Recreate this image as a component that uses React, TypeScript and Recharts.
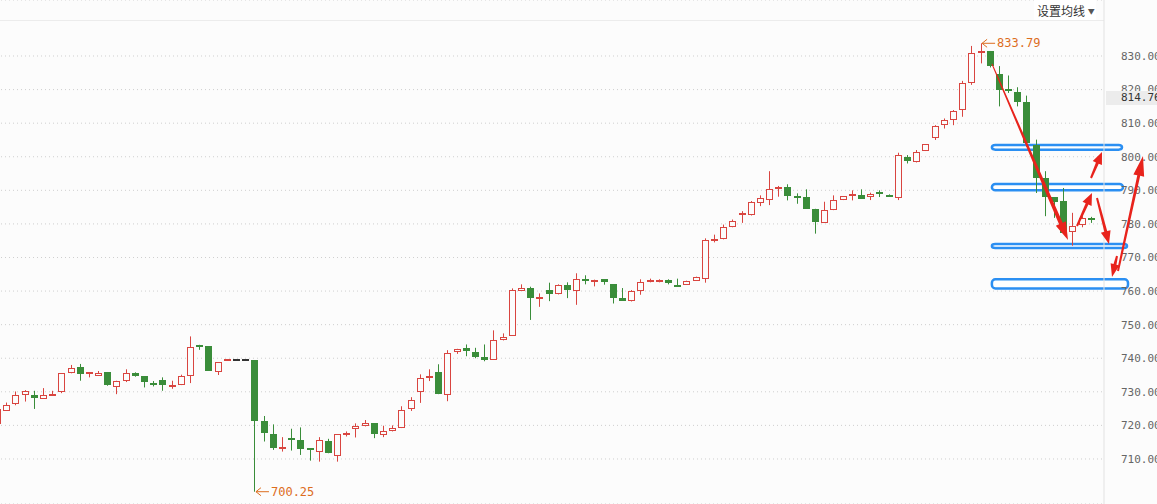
import { ComposedChart, Bar, XAxis, YAxis, CartesianGrid, ReferenceArea, ReferenceDot } from "recharts";

// daily OHLC (oldest first)
const opens = [
  720.5, 724.3, 726.4, 729.0, 729.1, 728.0, 728.9, 729.8, 735.5, 737.3,
  735.2, 734.8, 735.9, 731.4, 733.3, 735.6, 734.6, 732.6, 733.5, 731.4,
  732.0, 734.7, 743.5, 743.5, 736.0, 739.3, 739.4, 739.4, 739.4, 721.4,
  717.5, 713.1, 716.0, 715.7, 713.0, 712.2, 715.4, 711.0, 717.3, 718.8,
  719.7, 720.6, 717.0, 718.2, 719.2, 725.0, 730.0, 734.3, 736.0, 729.1,
  741.9, 742.9, 741.9, 740.5, 739.6, 745.3, 746.7, 760.1, 761.0, 757.6,
  760.2, 759.0, 761.8, 760.1, 763.4, 762.7, 763.5, 762.0, 757.9, 756.9,
  760.0, 762.6, 762.8, 763.2, 761.6, 761.9, 763.1, 763.7, 775.1, 775.4,
  779.0, 782.7, 782.8, 786.3, 787.1, 790.5, 791.1, 788.1, 788.1, 784.5,
  780.3, 784.1, 787.1, 788.4, 788.5, 788.0, 789.1, 788.5, 787.8, 800.0,
  798.3, 801.7, 805.5, 809.6, 810.9, 813.9, 821.9, 831.2, 831.5, 824.5,
  820.0, 819.2, 816.2, 803.6, 793.7, 788.0, 786.7, 777.5, 779.6, 781.6,
];
const highs = [
  726.0, 726.8, 730.1, 730.5, 730.3, 731.1, 730.3, 735.6, 738.0, 738.3,
  735.9, 736.2, 735.9, 733.3, 736.7, 735.8, 734.6, 733.2, 734.3, 733.3,
  735.1, 746.5, 744.0, 743.5, 738.8, 739.4, 739.4, 739.4, 739.4, 722.8,
  720.3, 716.5, 719.0, 719.4, 713.0, 716.5, 716.0, 717.4, 718.2, 720.6,
  721.6, 720.6, 719.9, 720.0, 725.7, 728.4, 735.2, 736.7, 738.2, 742.4,
  742.8, 744.1, 743.1, 744.1, 748.3, 747.4, 760.8, 762.0, 761.3, 759.3,
  762.5, 762.0, 762.6, 765.3, 764.7, 763.4, 763.5, 762.0, 760.9, 760.3,
  763.5, 763.7, 763.5, 763.5, 763.7, 763.1, 764.3, 775.7, 776.8, 779.8,
  781.3, 783.8, 786.8, 788.5, 795.7, 791.3, 791.8, 789.1, 790.3, 784.5,
  786.6, 788.5, 788.3, 790.0, 790.3, 789.3, 790.0, 788.8, 801.2, 800.5,
  802.0, 803.7, 809.4, 811.4, 813.9, 822.6, 833.0, 833.79, 831.5, 827.0,
  824.2, 820.7, 818.2, 805.1, 795.7, 788.0, 790.7, 783.3, 782.3, 782.1,
];
const lows = [
  720.0, 724.3, 726.0, 727.1, 724.9, 728.0, 728.9, 729.6, 735.5, 733.3,
  734.3, 734.8, 731.8, 729.3, 732.9, 734.5, 731.3, 731.6, 730.3, 730.9,
  732.0, 732.6, 742.5, 736.3, 735.0, 739.3, 739.4, 739.4, 700.25, 715.2,
  712.7, 712.2, 712.5, 711.2, 709.5, 709.2, 711.7, 709.2, 716.7, 716.4,
  719.7, 716.2, 716.5, 718.2, 719.2, 724.3, 726.7, 733.2, 729.3, 727.2,
  741.3, 740.6, 740.0, 739.1, 739.6, 745.3, 746.7, 760.1, 751.4, 755.3,
  757.0, 759.0, 757.9, 755.9, 762.0, 761.4, 761.9, 756.3, 757.1, 756.9,
  758.9, 762.6, 762.6, 762.0, 761.4, 761.9, 763.1, 762.5, 774.5, 775.4,
  779.0, 780.3, 782.5, 785.3, 785.6, 788.1, 787.0, 786.0, 784.5, 777.1,
  780.3, 784.1, 787.1, 787.0, 787.5, 787.1, 788.0, 788.1, 787.1, 798.0,
  798.3, 801.7, 805.0, 808.4, 809.4, 811.9, 821.4, 827.8, 826.6, 815.0,
  819.0, 815.0, 803.0, 789.2, 782.3, 781.8, 777.0, 773.5, 779.0, 780.3,
];
const closes = [
  725.0, 726.1, 729.1, 730.3, 728.3, 729.1, 729.4, 735.5, 737.0, 735.4,
  735.7, 735.6, 731.9, 733.3, 735.6, 734.8, 732.8, 731.9, 731.9, 732.1,
  734.6, 743.3, 743.2, 736.3, 738.8, 739.4, 739.4, 739.4, 721.4, 717.6,
  713.4, 713.3, 715.8, 713.0, 712.8, 715.7, 711.9, 717.4, 717.5, 719.9,
  720.7, 717.4, 718.4, 719.2, 724.6, 727.6, 734.2, 734.4, 729.3, 741.6,
  742.8, 742.1, 740.3, 739.4, 745.3, 746.4, 760.2, 761.0, 757.9, 757.8,
  759.1, 761.7, 760.3, 763.7, 763.2, 763.4, 762.6, 757.9, 757.1, 760.0,
  762.6, 762.9, 763.2, 762.5, 761.4, 763.1, 764.3, 775.2, 775.3, 779.1,
  780.8, 782.9, 786.5, 787.8, 790.3, 791.1, 788.3, 788.0, 784.5, 780.6,
  784.1, 787.1, 788.3, 788.5, 787.5, 789.0, 788.9, 788.1, 800.4, 798.7,
  801.5, 803.7, 809.2, 810.9, 813.6, 822.1, 831.0, 831.3, 827.0, 820.0,
  819.7, 816.2, 804.1, 793.7, 788.0, 786.4, 777.3, 779.3, 781.8, 781.4,
];

const yTicks = [710, 720, 730, 740, 750, 760, 770, 780, 790, 800, 810, 820, 830];
const highIndex = 107;
const lowIndex = 28;
const lastPrice = "814.76";

// hand-drawn support / resistance boxes [from, to] in price
const levelBands = [
  [802.1, 803.5],
  [790.0, 791.9],
  [772.8, 774.0],
  [760.8, 763.5],
];
const bandExtend = [26, 27, 31, 32];

// hand-drawn red arrows, page pixels: start -> tip
const arrows = [
  { x1: 992, y1: 64, x2: 1068, y2: 240, w0: 1, w1: 4, head: 18, hw: 11 },
  { x1: 1077, y1: 226, x2: 1092, y2: 193, w0: 2, w1: 3, head: 12, hw: 10 },
  { x1: 1091, y1: 178, x2: 1102, y2: 152, w0: 2, w1: 3, head: 12, hw: 10 },
  { x1: 1097, y1: 198, x2: 1109, y2: 244, w0: 2, w1: 3, head: 13, hw: 10 },
  { x1: 1117, y1: 256, x2: 1112, y2: 277, w0: 2, w1: 3, head: 13, hw: 9 },
  { x1: 1118, y1: 271, x2: 1143, y2: 156, w0: 2, w1: 3, head: 20, hw: 11 },
];

const data = opens.map((open, i) => ({
  i,
  open,
  high: highs[i],
  low: lows[i],
  close: closes[i],
}));

const RED = "#d94540";
const GREEN = "#3a8d3a";
const FLAT = "#333333";
const BG = "#fcfcfc";
const ORANGE = "#dc6d1e";
const MONO = "'DejaVu Sans Mono', monospace";

function Candle(props: any) {
  const { x, y, width, height, payload } = props;
  if (x == null || payload == null) return null;
  const { open, close, high, low } = payload;
  const span = high - low;
  const py = (v: number) => (span === 0 ? y : y + ((high - v) / span) * height);
  const cx = Math.floor(x + width / 2) + 0.5;
  const top = Math.round(py(Math.max(open, close)));
  const bot = Math.round(py(Math.min(open, close)));
  const color = close > open ? RED : close < open ? GREEN : FLAT;
  let body;
  if (bot - top < 2) {
    body = <rect x={cx - 3.5} y={top - 1} width={7} height={2} fill={color} />;
  } else if (close > open) {
    body = <rect x={cx - 3} y={top + 0.5} width={6} height={bot - top - 1} fill={BG} stroke={color} strokeWidth={1} />;
  } else {
    body = <rect x={cx - 3.5} y={top} width={7} height={bot - top} fill={color} />;
  }
  return (
    <g>
      {span > 0 && <line x1={cx} x2={cx} y1={py(high)} y2={py(low)} stroke={color} strokeWidth={1} />}
      {body}
    </g>
  );
}

function PriceMark(props: any) {
  const { cx, cy, payload } = props;
  if (cx == null) return null;
  const left = cx + 1;
  return (
    <g>
      <line x1={left} x2={left + 13} y1={cy} y2={cy} stroke={ORANGE} strokeWidth={1} />
      <path d={`M${left + 5},${cy - 4} L${left},${cy} L${left + 5},${cy + 4}`} fill="none" stroke={ORANGE} strokeWidth={1} />
      <text x={left + 15} y={cy} dy="0.35em" fill={ORANGE} fontSize={12} fontFamily={MONO}>
        {payload}
      </text>
    </g>
  );
}

function arrowPoints(a: (typeof arrows)[number]) {
  const dx = a.x2 - a.x1;
  const dy = a.y2 - a.y1;
  const len = Math.hypot(dx, dy);
  const ux = dx / len, uy = dy / len;
  const nx = -uy, ny = ux;
  const bx = a.x2 - ux * a.head, by = a.y2 - uy * a.head;
  const pts = [
    [a.x1 + (nx * a.w0) / 2, a.y1 + (ny * a.w0) / 2],
    [bx + (nx * a.w1) / 2, by + (ny * a.w1) / 2],
    [bx + (nx * a.hw) / 2, by + (ny * a.hw) / 2],
    [a.x2, a.y2],
    [bx - (nx * a.hw) / 2, by - (ny * a.hw) / 2],
    [bx - (nx * a.w1) / 2, by - (ny * a.w1) / 2],
    [a.x1 - (nx * a.w0) / 2, a.y1 - (ny * a.w0) / 2],
  ];
  return pts.map((p) => p.join(",")).join(" ");
}

export default function App() {
  return (
    <div style={{ position: "absolute", left: 0, top: 0, width: 1157, height: 504, overflow: "hidden", background: BG }}>
      <div style={{ position: "absolute", left: 0, top: 20, width: 1104, height: 1, background: "#ececec" }} />
      <div style={{ position: "absolute", left: -7, top: 0 }}>
        <ComposedChart width={1164} height={504} data={data} margin={{ top: 0, right: 0, bottom: 0, left: 0 }}>
          <CartesianGrid vertical={false} stroke="#cfcfcf" strokeDasharray="1 3" />
          <XAxis dataKey="i" type="category" hide padding={{ left: 0, right: 8 }} />
          <YAxis
            orientation="right"
            width={53}
            domain={[696.59, 846.68]}
            allowDataOverflow
            ticks={yTicks}
            tickFormatter={(v: number) => v.toFixed(2)}
            axisLine={{ stroke: "#e2e2e2" }}
            tickLine={false}
            tickSize={0}
            tickMargin={17}
            tick={{ fill: "#666", fontSize: 11, fontFamily: MONO }}
          />
          {levelBands.map(([lo, hi], k) => (
            <ReferenceArea
              key={k}
              x1={109}
              x2={119}
              y1={lo}
              y2={hi}
              ifOverflow="visible"
              shape={(p: any) => (
                <rect
                  x={p.x - 3}
                  y={p.y}
                  width={p.width + 3 + bandExtend[k]}
                  height={p.height}
                  rx={3.5}
                  fill="#ffffff"
                  stroke="#2b8ff2"
                  strokeWidth={2.5}
                />
              )}
            />
          ))}
          <Bar
            dataKey={(d: any) => [d.low, d.high]}
            barSize={7}
            isAnimationActive={false}
            shape={(p: any) => <Candle {...p} />}
          />
          <ReferenceDot
            x={highIndex}
            y={highs[highIndex]}
            ifOverflow="visible"
            shape={(p: any) => <PriceMark {...p} payload={highs[highIndex].toFixed(2)} />}
          />
          <ReferenceDot
            x={lowIndex}
            y={lows[lowIndex]}
            ifOverflow="visible"
            shape={(p: any) => <PriceMark {...p} payload={lows[lowIndex].toFixed(2)} />}
          />
        </ComposedChart>
      </div>
      <svg width={1157} height={504} style={{ position: "absolute", left: 0, top: 0, pointerEvents: "none" }}>
        {arrows.map((a, k) => (
          <polygon key={k} points={arrowPoints(a)} fill="#e8231c" />
        ))}
      </svg>
      <div
        style={{
          position: "absolute",
          left: 1106,
          top: 91,
          width: 51,
          height: 14,
          background: "#ececec",
          fontFamily: MONO,
          fontSize: 11,
          lineHeight: "14px",
          color: "#333",
          paddingLeft: 15,
          boxSizing: "border-box",
          whiteSpace: "nowrap",
        }}
      >
        {lastPrice}
      </div>
      <div
        style={{
          position: "absolute",
          left: 1034,
          top: 0,
          width: 62,
          height: 20,
          background: "#ffffff",
          fontFamily: "'Noto Sans CJK SC', sans-serif",
          fontSize: 12,
          lineHeight: "21px",
          color: "#333",
          paddingLeft: 3,
          boxSizing: "border-box",
          whiteSpace: "nowrap",
        }}
      >
        设置均线 <span style={{ fontSize: 7, color: "#555", verticalAlign: "2px" }}>▼</span>
      </div>
    </div>
  );
}
